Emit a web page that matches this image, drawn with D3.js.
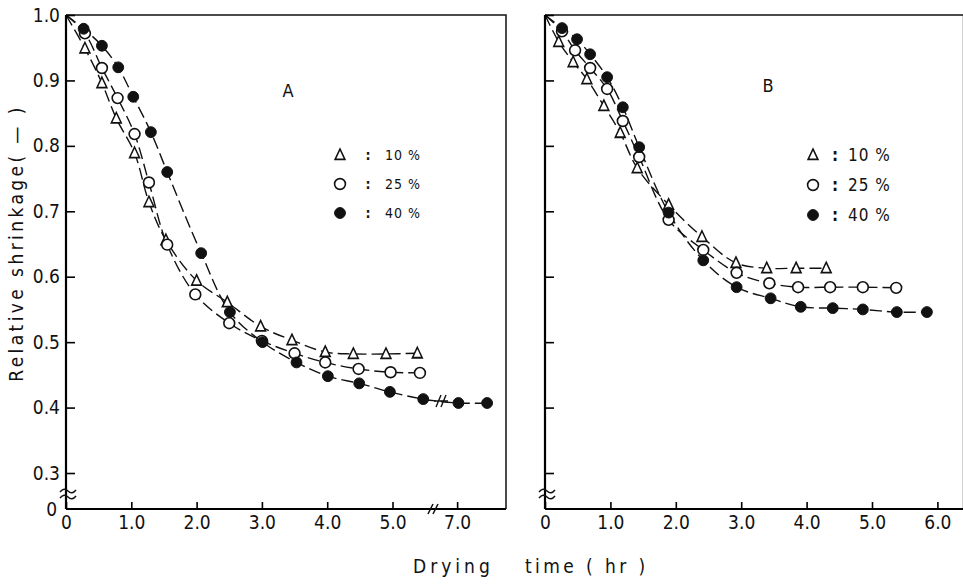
<!DOCTYPE html>
<html>
<head>
<meta charset="utf-8">
<script src="https://cdn.jsdelivr.net/npm/d3@7"></script>
<style>
  body { margin: 0; background: #fff; }
  svg text { font-family: "DejaVu Sans Condensed", "DejaVu Sans", sans-serif; fill: #111; }
</style>
</head>
<body>
<div id="chart"></div>
<script>
// every curve starts at the top-left corner
const origin = [0, 1.0];

// panel A
const a10Time  = [0.29, 0.55, 0.77, 1.05, 1.27, 1.53, 2.0, 2.47, 2.98, 3.46, 3.97, 4.4, 4.9, 5.38];
const a10Value = [0.949, 0.896, 0.842, 0.789, 0.714, 0.656, 0.594, 0.561, 0.524, 0.503, 0.485, 0.482, 0.482, 0.483];
const a25Time  = [0.29, 0.55, 0.79, 1.05, 1.27, 1.55, 1.98, 2.5, 3.0, 3.5, 3.97, 4.48, 4.97, 5.42];
const a25Value = [0.972, 0.919, 0.873, 0.818, 0.744, 0.649, 0.573, 0.529, 0.502, 0.483, 0.469, 0.459, 0.454, 0.453];
const a40Time  = [0.27, 0.55, 0.8, 1.03, 1.3, 1.55, 2.07, 2.51, 3.01, 3.53, 4.01, 4.49, 4.96, 5.47, 7.02, 7.46];
const a40Value = [0.979, 0.953, 0.92, 0.875, 0.821, 0.76, 0.636, 0.546, 0.5, 0.469, 0.448, 0.437, 0.424, 0.413, 0.407, 0.407];

// panel B
const b10Time  = [0.21, 0.43, 0.64, 0.9, 1.15, 1.41, 1.89, 2.4, 2.92, 3.39, 3.84, 4.3];
const b10Value = [0.959, 0.928, 0.902, 0.861, 0.82, 0.766, 0.71, 0.661, 0.621, 0.613, 0.613, 0.613];
const b25Time  = [0.26, 0.46, 0.69, 0.95, 1.19, 1.44, 1.89, 2.42, 2.93, 3.43, 3.87, 4.36, 4.86, 5.37];
const b25Value = [0.975, 0.946, 0.919, 0.887, 0.838, 0.783, 0.687, 0.641, 0.606, 0.59, 0.584, 0.584, 0.584, 0.583];
const b40Time  = [0.26, 0.49, 0.69, 0.95, 1.19, 1.44, 1.89, 2.42, 2.93, 3.45, 3.91, 4.4, 4.86, 5.38, 5.84];
const b40Value = [0.98, 0.963, 0.94, 0.905, 0.859, 0.798, 0.698, 0.625, 0.584, 0.567, 0.554, 0.552, 0.55, 0.546, 0.546];

const seriesNames = ["10 %", "25 %", "40 %"];
const yTicks = [0.3, 0.4, 0.5, 0.6, 0.7, 0.8, 0.9, 1.0];
const yTickLabels = ["0.3", "0.4", "0.5", "0.6", "0.7", "0.8", "0.9", "1.0"];
const aXTicks = [0, 1, 2, 3, 4, 5, 7];
const aXTickLabels = ["0", "1.0", "2.0", "3.0", "4.0", "5.0", "7.0"];
const bXTicks = [0, 1, 2, 3, 4, 5, 6];
const bXTickLabels = ["0", "1.0", "2.0", "3.0", "4.0", "5.0", "6.0"];

const W = 963, H = 584;
const plotTop = 15, plotBottom = 509;

const svg = d3.select("#chart").append("svg")
  .attr("width", W).attr("height", H);

const y = d3.scaleLinear().domain([0.245, 1.0]).range([plotBottom, plotTop]);

// panel A has a broken time axis between 5 and 7 hr
const xA = d3.scaleLinear().domain([0, 5.62, 6.63, 7.75]).range([66, 433, 433, 506]);
const xB = d3.scaleLinear().domain([0, 6.4]).range([545, 545 + 65.4 * 6.4]);

const zip = (t, v) => t.map((d, i) => [d, v[i]]);

const marks = {
  tri: d3.symbol().type(d3.symbolTriangle).size(52),
  circ: d3.symbol().type(d3.symbolCircle).size(92)
};

function drawMarker(g, kind, cx, cy) {
  if (kind === 0) {
    g.append("path").attr("d", marks.tri()).attr("transform", `translate(${cx},${cy + 1}) scale(0.9,1.1)`)
      .attr("fill", "#fff").attr("stroke", "#111").attr("stroke-width", 1.6);
  } else if (kind === 1) {
    g.append("path").attr("d", marks.circ()).attr("transform", `translate(${cx},${cy})`)
      .attr("fill", "#fff").attr("stroke", "#111").attr("stroke-width", 1.6);
  } else {
    g.append("path").attr("d", marks.circ()).attr("transform", `translate(${cx},${cy})`)
      .attr("fill", "#111").attr("stroke", "#111").attr("stroke-width", 1);
  }
}

function panel(opt) {
  const g = svg.append("g");
  const x = opt.x;
  const [x0, x1] = [x.range()[0], x.range()[x.range().length - 1]];

  // frame: top and right
  g.append("path")
    .attr("d", `M${x0},${plotTop}H${x1}V${plotBottom}`)
    .attr("fill", "none").attr("stroke", "#111").attr("stroke-width", 1.5);

  // curves
  const line = d3.line()
    .x(d => x(d[0])).y(d => y(d[1]))
    .curve(d3.curveCatmullRom.alpha(0.5));

  opt.series.forEach((s, k) => {
    g.append("path")
      .datum([origin].concat(s))
      .attr("d", line)
      .attr("fill", "none").attr("stroke", "#111").attr("stroke-width", 1.4)
      .attr("stroke-dasharray", "12,5");
  });
  opt.series.forEach((s, k) => {
    s.forEach(d => drawMarker(g, k, x(d[0]), y(d[1])));
  });

  // axes
  const yAxis = d3.axisLeft(y).tickValues(yTicks).tickSize(-9).tickSizeOuter(0).tickPadding(6)
    .tickFormat((d, i) => opt.yLabels ? yTickLabels[i] : "");
  const ya = g.append("g").attr("transform", `translate(${x0},0)`).call(yAxis);
  ya.select(".domain").attr("d", `M0,${plotTop}V${plotBottom}`).attr("stroke-width", 2.2);
  ya.selectAll(".tick line").attr("stroke-width", 1.6);
  ya.selectAll("text").attr("font-size", 19).attr("font-family", "DejaVu Sans Condensed, DejaVu Sans, sans-serif");

  const xAxis = d3.axisBottom(x).tickValues(opt.xTicks).tickSize(-7).tickSizeOuter(0).tickPadding(7)
    .tickFormat((d, i) => opt.xLabels[i]);
  const xa = g.append("g").attr("transform", `translate(0,${plotBottom})`).call(xAxis);
  xa.select(".domain").attr("d", `M${x0},0H${x1}`).attr("stroke-width", 2.2);
  xa.selectAll(".tick line").attr("stroke-width", 1.6);
  xa.selectAll("text").attr("font-size", 19).attr("font-family", "DejaVu Sans Condensed, DejaVu Sans, sans-serif");

  // y break mark near the bottom
  const by = y(0.268);
  g.append("path")
    .attr("d", `M${x0 - 6},${by - 2} q4,-5 8,-1 t8,-1 M${x0 - 6},${by + 4} q4,-5 8,-1 t8,-1`)
    .attr("fill", "none").attr("stroke", "#111").attr("stroke-width", 1.5);

  if (opt.yLabels) {
    g.append("text").attr("x", x0 - 9).attr("y", plotBottom).attr("dy", "0.35em")
      .attr("text-anchor", "end").attr("font-size", 19).text("0");
  }

  // panel letter
  g.append("text").attr("x", opt.letterPos[0]).attr("y", opt.letterPos[1])
    .attr("text-anchor", "middle").attr("font-size", 18).text(opt.letter);

  // legend
  const lg = opt.legend;
  seriesNames.forEach((name, k) => {
    const ly = lg.y + k * lg.dy;
    drawMarker(g, k, lg.x, ly);
    g.append("text").attr("x", lg.x + lg.colon).attr("y", ly).attr("dy", "0.35em")
      .attr("text-anchor", "middle").attr("font-size", lg.size).attr("font-weight", "bold").text(":");
    g.append("text").attr("x", lg.x + lg.text).attr("y", ly).attr("dy", "0.35em")
      .attr("font-size", lg.size).attr("letter-spacing", 1).text(name);
  });
  return g;
}

const gA = panel({
  x: xA,
  series: [zip(a10Time, a10Value), zip(a25Time, a25Value), zip(a40Time, a40Value)],
  yLabels: true,
  xTicks: aXTicks, xLabels: aXTickLabels,
  letter: "A", letterPos: [288, 97],
  legend: { x: 340, y: 155, dy: 29, colon: 28, text: 45, size: 14 }
});

const gB = panel({
  x: xB,
  series: [zip(b10Time, b10Value), zip(b25Time, b25Value), zip(b40Time, b40Value)],
  yLabels: false,
  xTicks: bXTicks, xLabels: bXTickLabels,
  letter: "B", letterPos: [768, 92],
  legend: { x: 813, y: 155, dy: 30, colon: 22, text: 35, size: 17 }
});

// break marks on panel A time axis and on the 40 % curve
const brk = xA(5.62);
gA.append("path")
  .attr("d", `M${brk - 5},${plotBottom + 5} l5,-10 M${brk},${plotBottom + 5} l5,-10`)
  .attr("fill", "none").attr("stroke", "#111").attr("stroke-width", 1.5);
gA.append("path")
  .attr("d", `M${brk + 3},${y(0.41) + 6} l5,-12 M${brk + 8},${y(0.41) + 6} l5,-12 M${brk + 1},${y(0.41)} h14`)
  .attr("fill", "none").attr("stroke", "#111").attr("stroke-width", 1.4);

// axis titles
svg.append("text")
  .attr("transform", "translate(23,243) rotate(-90)")
  .attr("text-anchor", "middle").attr("font-size", 19).attr("letter-spacing", 3.4)
  .attr("font-family", "DejaVu Sans, sans-serif")
  .text("Relative shrinkage( — )");

svg.append("text").attr("x", 413).attr("y", 573).attr("font-size", 19).attr("letter-spacing", 4)
  .attr("font-family", "DejaVu Sans, sans-serif").text("Drying");
svg.append("text").attr("x", 525).attr("y", 573).attr("font-size", 19).attr("letter-spacing", 3.4)
  .attr("font-family", "DejaVu Sans, sans-serif").text("time ( hr )");
</script>
</body>
</html>
